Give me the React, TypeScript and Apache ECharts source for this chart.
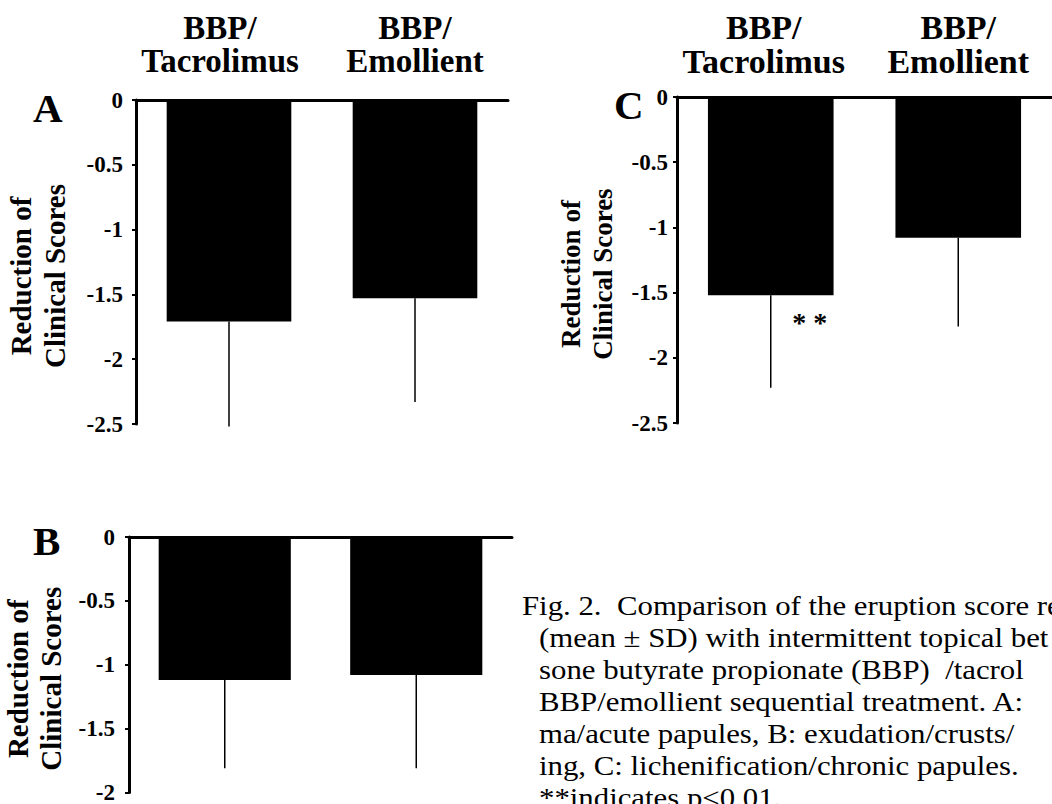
import React, { useEffect, useRef } from "react";
import * as echarts from "echarts";

const categories = ["BBP/\nTacrolimus", "BBP/\nEmollient"];
const meanA = [-1.71, -1.53];
const sdA = [0.81, 0.8];
const meanB = [-1.12, -1.08];
const sdB = [0.69, 0.73];
const meanC = [-1.52, -1.08];
const sdC = [0.71, 0.68];
const sigC = ["* *", ""];
const yTicksAC = { min: -2.5, max: 0, interval: 0.5 };
const yTicksB = { min: -2, max: 0, interval: 0.5 };
const yTitle = "Reduction of\nClinical Scores";
const panelLetters = ["A", "B", "C"];
const captionLines = [
  "Fig. 2.  Comparison of the eruption score re",
  "(mean ± SD) with intermittent topical bet",
  "sone butyrate propionate (BBP)  /tacrol",
  "BBP/emollient sequential treatment. A:",
  "ma/acute papules, B: exudation/crusts/",
  "ing, C: lichenification/chronic papules.",
  "**indicates p<0.01.",
];

const SERIF = "'Liberation Serif', 'Times New Roman', serif";

export default function App() {
  const ref = useRef<HTMLDivElement>(null);
  useEffect(() => {
    document.body.style.margin = "0";
    const chart = echarts.init(ref.current!, null, { renderer: "svg" });

    const grids = [
      { left: 136, top: 100, width: 372, height: 324 },
      { left: 128, top: 537, width: 384, height: 259 },
      { left: 677, top: 97, width: 375, height: 326 },
    ];
    const means = [meanA, meanB, meanC];
    const sds = [sdA, sdB, sdC];
    const labelMargins = [13, 14, 9];
    const catMargins = [23, 0, 19];
    const catSizes = [33, 33, 34];
    const catLineHeights = [33, 33, 34];
    const catShift = [
      [18, 0],
      [0, 0],
      [14, 0],
    ];
    const nameGaps = [64, 62, 58];
    const nameSizes = [29, 29, 27];
    const nameLH = [34, 33, 32];

    const xAxis = grids.map((_, i) => ({
      type: "category",
      gridIndex: i,
      data: categories.map((c, k) => ({
        value: c,
        textStyle: { padding: [0, catShift[i][k], 0, 0] },
      })),
      position: "top",
      axisLine: { onZero: false, lineStyle: { color: "#000", width: 3 } },
      axisTick: { show: false },
      axisLabel: {
        show: i !== 1,
        interval: 0,
        hideOverlap: false,
        margin: catMargins[i],
        color: "#000",
        fontFamily: SERIF,
        fontWeight: "bold",
        fontSize: catSizes[i],
        lineHeight: catLineHeights[i],
      },
      splitLine: { show: false },
    }));

    const yAxis = grids.map((_, i) => ({
      type: "value",
      gridIndex: i,
      ...(i === 1 ? yTicksB : yTicksAC),
      axisLine: { show: true, lineStyle: { color: "#000", width: 3 } },
      axisTick: { show: true, length: 4, lineStyle: { color: "#000", width: 2 } },
      splitLine: { show: false },
      axisLabel: {
        margin: labelMargins[i],
        color: "#000",
        fontFamily: SERIF,
        fontWeight: "bold",
        fontSize: 23,
        formatter: (v: number) => String(v),
      },
      name: yTitle,
      nameLocation: "middle",
      nameRotate: 90,
      nameGap: nameGaps[i],
      nameTextStyle: {
        color: "#000",
        fontFamily: SERIF,
        fontWeight: "bold",
        fontSize: nameSizes[i],
        lineHeight: nameLH[i],
        padding: [0, 28, 0, 0],
      },
    }));

    const series: any[] = [];
    grids.forEach((_, i) => {
      series.push({
        type: "bar",
        xAxisIndex: i,
        yAxisIndex: i,
        data: means[i],
        barWidth: i === 1 ? "69%" : "67%",
        itemStyle: { color: "#000" },
        z: 2,
      });
      const sig = i === 2 ? sigC : ["", ""];
      series.push({
        type: "custom",
        xAxisIndex: i,
        yAxisIndex: i,
        clip: false,
        z: 3,
        data: means[i].map((m, k) => [k, m, sds[i][k]]),
        encode: { x: 0, y: 1 },
        renderItem: (params: any, api: any) => {
          const x = api.value(0);
          const m = api.value(1);
          const sd = api.value(2);
          const p1 = api.coord([x, m]);
          const p2 = api.coord([x, m - sd]);
          const children: any[] = [
            {
              type: "line",
              shape: { x1: p1[0], y1: p1[1], x2: p2[0], y2: p2[1] },
              style: { stroke: "#000", lineWidth: 1.5 },
            },
          ];
          const s = sig[params.dataIndex];
          if (s) {
            children.push({
              type: "text",
              x: p1[0] + 39,
              y: p1[1] + 27,
              style: {
                text: s,
                fill: "#000",
                font: `bold 28px ${SERIF}`,
                textAlign: "center",
                textVerticalAlign: "middle",
              },
            });
          }
          return { type: "group", children };
        },
      });
    });

    const letterPos = [
      [33, 108],
      [33, 541],
      [614, 105],
    ];
    const graphic: any[] = panelLetters.map((t, i) => ({
      type: "text",
      x: letterPos[i][0],
      y: letterPos[i][1],
      style: {
        text: t,
        fill: "#000",
        font: `bold 41px ${SERIF}`,
        textAlign: "left",
        textVerticalAlign: "middle",
      },
    }));
    captionLines.forEach((t, k) => {
      graphic.push({
        type: "text",
        x: k === 0 ? 522 : 539,
        y: 605 + k * 32,
        scaleX: 1.1,
        style: {
          text: t,
          fill: "#000",
          font: `28px ${SERIF}`,
          textAlign: "left",
          textVerticalAlign: "middle",
        },
      });
    });

    chart.setOption({
      animation: false,
      backgroundColor: "#fff",
      grid: grids.map((g) => ({ ...g, containLabel: false })),
      xAxis,
      yAxis,
      series,
      graphic,
    });
    return () => chart.dispose();
  }, []);
  return <div ref={ref} style={{ width: 1052, height: 804 }} />;
}
